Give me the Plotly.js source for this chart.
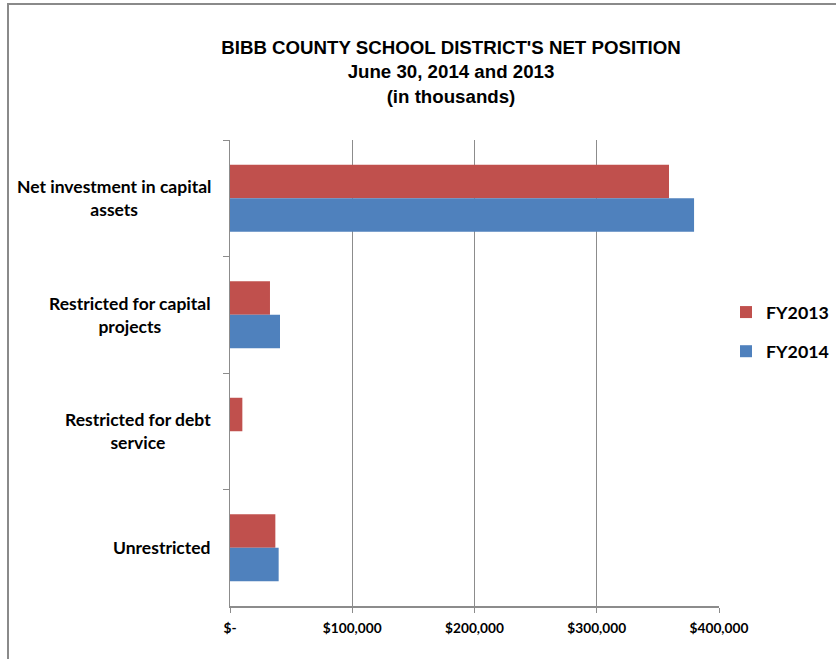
<!DOCTYPE html>
<html>
<head>
<meta charset="utf-8">
<script src="https://cdn.plot.ly/plotly-3.0.1.min.js"></script>
<style>
  html, body { margin: 0; padding: 0; background: #ffffff; }
  #wrap { position: relative; width: 836px; height: 659px; overflow: hidden; }
  #chart { position: absolute; left: 0; top: 0; width: 836px; height: 659px; }
  #frame { position: absolute; left: 7px; top: 3px; width: 900px; height: 700px;
           border-top: 2px solid #8a8a8a; border-left: 2px solid #8a8a8a; pointer-events: none; }
</style>
</head>
<body>
<div id="wrap">
  <div id="chart"></div>
  <div id="frame"></div>
</div>
<script>
// ---- data ----
const categories = [
  "Net investment in capital<br>assets",
  "Restricted for capital<br>projects",
  "Restricted for debt<br>service",
  "Unrestricted"
];
const seriesNames = ["FY2013", "FY2014"];
const fy2013 = [359100, 32700, 10100, 37100];
const fy2014 = [379600, 40900, 0, 39800];
const xTickVals = [0, 100000, 200000, 300000, 400000];
const xTickText = ["$-", "$100,000", "$200,000", "$300,000", "$400,000"];
const titleText = "BIBB COUNTY SCHOOL DISTRICT'S NET POSITION<br>June 30, 2014 and 2013<br>(in thousands)";

// ---- styles ----
const colors = ["#C0504D", "#4F81BD"];
const labelFamily = "Lato, 'Open Sans', sans-serif";
const gridColor = "#8c8c8c";

const W = 836, H = 659;
const m = { l: 230, r: 117, t: 140, b: 53, autoexpand: false };
const plotW = W - m.l - m.r;

const traces = [fy2013, fy2014].map((vals, i) => ({
  type: "bar",
  orientation: "h",
  name: seriesNames[i],
  legendgroup: "g" + i,
  x: vals,
  y: categories,
  marker: { color: colors[i], line: { width: 0 } },
  hoverinfo: "skip"
}));

const annotations = categories.map(c => ({
  xref: "paper", yref: "y",
  x: (213 - m.l) / plotW, y: c,
  xanchor: "right", yanchor: "middle",
  align: "center",
  text: "<b>" + c + "</b>",
  showarrow: false,
  font: { family: labelFamily, size: 17.5, color: "#000" }
}));

const layout = {
  width: W, height: H,
  margin: m,
  paper_bgcolor: "#ffffff",
  plot_bgcolor: "#ffffff",
  barmode: "group",
  bargap: 0.425,
  bargroupgap: 0,
  title: {
    text: "<b>" + titleText + "</b>",
    xref: "container", yref: "container",
    x: 451 / W, xanchor: "center",
    y: 1 - 54 / H, yanchor: "top",
    font: { family: "'Liberation Sans', Arial, sans-serif", size: 18.7, color: "#000" }
  },
  xaxis: {
    range: [0, 400000],
    tickvals: xTickVals,
    ticktext: xTickText,
    showgrid: true,
    gridcolor: gridColor,
    gridwidth: 1,
    zeroline: false,
    showline: true,
    linecolor: gridColor,
    linewidth: 1.5,
    ticks: "outside",
    ticklen: 5,
    tickcolor: gridColor,
    ticklabelstandoff: 4,
    tickfont: { family: labelFamily, size: 13.7, color: "#000", weight: 700 },
    fixedrange: true
  },
  yaxis: {
    type: "category",
    autorange: "reversed",
    showticklabels: false,
    showgrid: false,
    zeroline: false,
    showline: true,
    linecolor: gridColor,
    linewidth: 1.5,
    ticks: "outside",
    tickson: "boundaries",
    ticklen: 6,
    tickcolor: gridColor,
    fixedrange: true
  },
  legend: {
    x: (726 - m.l) / plotW, xanchor: "left",
    y: (606 - 332) / (606 - 140), yanchor: "middle",
    traceorder: "grouped",
    tracegroupgap: 13,
    font: { family: labelFamily, size: 17.8, color: "#000", weight: 700 },
    itemwidth: 30,
    bgcolor: "rgba(0,0,0,0)"
  },
  annotations: annotations,
  showlegend: true
};

Plotly.newPlot("chart", traces, layout, { displayModeBar: false, staticPlot: true });
</script>
</body>
</html>
